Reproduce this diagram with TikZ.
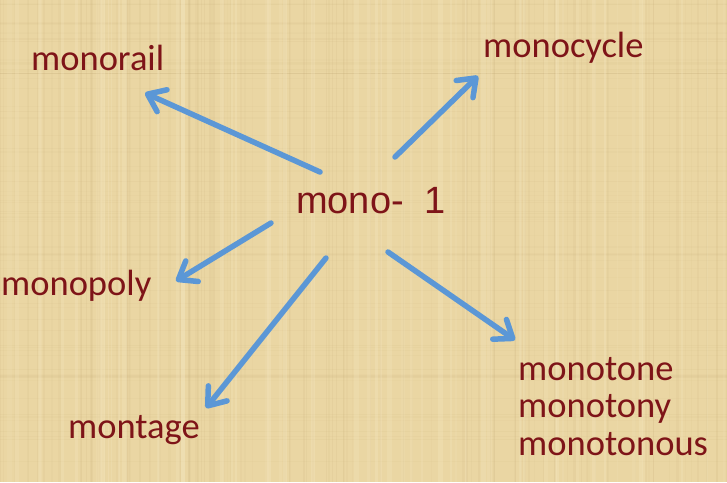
\documentclass[tikz,border=0pt]{standalone}
\usepackage{fontspec}
\setmainfont{Carlito}
\newfontfamily\arialfont{Liberation Sans}
\usetikzlibrary{arrows.meta}
\definecolor{papyrus}{HTML}{EAD6A3}
\definecolor{papdark}{HTML}{C9B07A}
\definecolor{paplight}{HTML}{F6E9C4}
\definecolor{wordred}{HTML}{7E1418}
\definecolor{arrowblue}{HTML}{5B97D6}
\tikzset{
  word/.style={anchor=base west, inner sep=0pt, text=wordred, font=\fontsize{36.5}{37.5}\selectfont},
  hubtext/.style={anchor=base west, inner sep=0pt, text=wordred, font=\arialfont\fontsize{38}{40}\selectfont},
  link/.style={draw=arrowblue, line width=5.5pt, line cap=round, line join=round,
    -{Straight Barb[length=16pt,width=24pt,line cap=round,line join=round]}}
}
\begin{document}
\begin{tikzpicture}[x=1pt,y=-1pt]
\useasboundingbox (0,0) rectangle (727,482);
% background
\fill[papyrus] (0,0) rectangle (727,482);
\pgfmathsetseed{7}
\foreach \i in {1,...,110}{
  \pgfmathsetmacro{\xx}{rnd*727}
  \pgfmathsetmacro{\ww}{0.5+rnd*2}
  \pgfmathsetmacro{\op}{0.05+rnd*0.10}
  \fill[papdark, opacity=\op] (\xx,0) rectangle ++(\ww,482);
}
\foreach \i in {1,...,70}{
  \pgfmathsetmacro{\yy}{rnd*482}
  \pgfmathsetmacro{\hh}{0.5+rnd*1.5}
  \pgfmathsetmacro{\op}{0.04+rnd*0.07}
  \fill[papdark, opacity=\op] (0,\yy) rectangle ++(727,\hh);
}
\foreach \i in {1,...,60}{
  \pgfmathsetmacro{\xx}{rnd*727}
  \pgfmathsetmacro{\ww}{1+rnd*4}
  \pgfmathsetmacro{\op}{0.12+rnd*0.18}
  \fill[paplight, opacity=\op] (\xx,0) rectangle ++(\ww,482);
}
% words
\node[hubtext] (mono) at (296,213) {mono-\ \ 1};
\node[word] (rail) at (31,70) {monorail};
\node[word] (cycle) at (483,57) {monocycle};
\node[word] (poly) at (1,295) {monopoly};
\node[word] (tage) at (68,438) {montage};
\node[word] (tone1) at (518,380) {monotone};
\node[word] (tone2) at (518,417.5) {monotony};
\node[word] (tone3) at (518,455) {monotonous};
% arrow ends
\coordinate (t1) at (320,172); \coordinate (h1) at (145,93);
\coordinate (t2) at (395,157); \coordinate (h2) at (478,76);
\coordinate (t3) at (271,223); \coordinate (h3) at (176,281);
\coordinate (t4) at (326,258); \coordinate (h4) at (206,408);
\coordinate (t5) at (388,252); \coordinate (h5) at (515,340);
\draw[link] (t1) -- (h1);
\draw[link] (t2) -- (h2);
\draw[link] (t3) -- (h3);
\draw[link] (t4) -- (h4);
\draw[link] (t5) -- (h5);
\end{tikzpicture}
\end{document}
